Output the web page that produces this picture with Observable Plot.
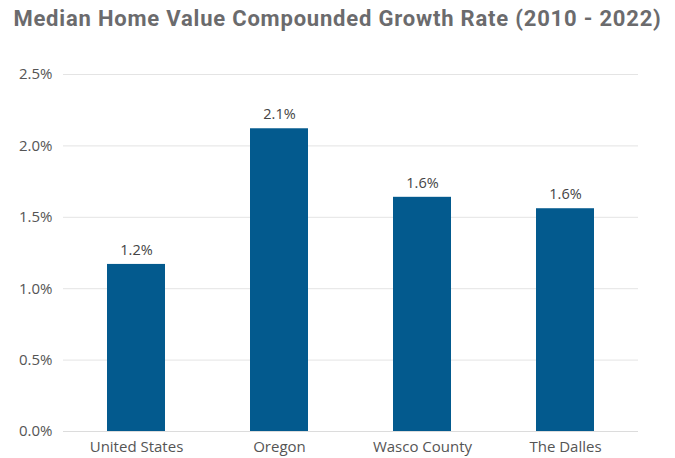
<!DOCTYPE html>
<html>
<head>
<meta charset="utf-8">
<script src="https://cdn.jsdelivr.net/npm/d3@7"></script>
<script src="https://cdn.jsdelivr.net/npm/@observablehq/plot@0.6"></script>
<style>
  html, body { margin: 0; padding: 0; background: #fff; }
  #wrap { width: 675px; height: 458px; font-family: Roboto, "Open Sans", sans-serif; }
  #title { height: 40px; line-height: 38px; text-align: center; font-size: 22px; font-weight: 700; color: #6b6b6d; letter-spacing: 0.8px; white-space: nowrap; }
  svg { display: block; }
</style>
</head>
<body>
<div id="wrap">
  <div id="title">Median Home Value Compounded Growth Rate (2010 - 2022)</div>
  <div id="chart"></div>
</div>
<script>
const categories = ["United States", "Oregon", "Wasco County", "The Dalles"];
const growthRates = [0.0117, 0.0212, 0.0164, 0.0156];
const yTicks = [0, 0.005, 0.01, 0.015, 0.02, 0.025];

const data = categories.map((c, i) => ({ area: c, value: growthRates[i] }));
const fmt = d3.format(".1%");

const plot = Plot.plot({
  width: 675,
  height: 418,
  marginTop: 34,
  marginBottom: 27,
  marginLeft: 63,
  marginRight: 37,
  style: { fontFamily: "'Open Sans', Roboto, sans-serif", fontSize: "15px", color: "#555" },
  x: { domain: categories, paddingInner: 0.596, paddingOuter: 0.298, label: null, tickSize: 0, tickPadding: 10 },
  y: { domain: [0, 0.025], ticks: yTicks, tickFormat: fmt, label: null, tickSize: 0, tickPadding: 11 },
  marks: [
    Plot.gridY(yTicks, { stroke: "#e4e4e4", strokeOpacity: 1 }),
    Plot.barY(data, { x: "area", y: "value", fill: "#035a8e" }),
    Plot.ruleY([0], { stroke: "#dcdcdc" }),
    Plot.text(data, { x: "area", y: "value", text: d => fmt(d.value), dy: -14, fill: "#444", fontSize: 14.5 })
  ]
});
document.getElementById("chart").appendChild(plot);
</script>
</body>
</html>
